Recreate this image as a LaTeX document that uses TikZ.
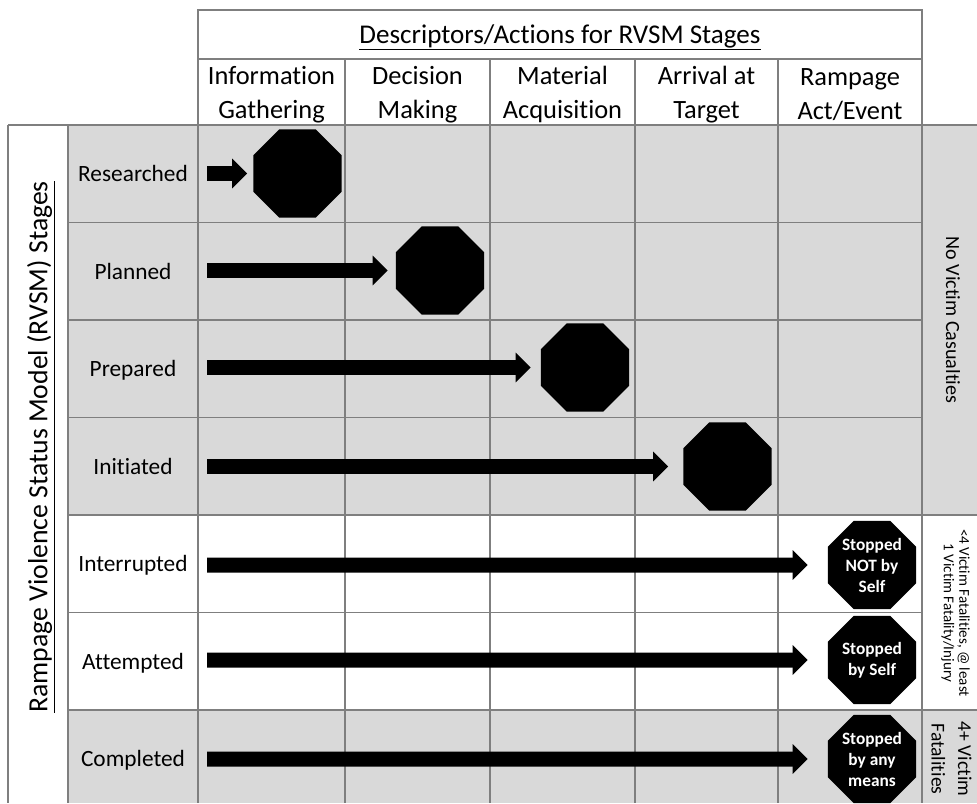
\documentclass[tikz,border=0pt]{standalone}
\usepackage{fontspec}
\setmainfont{Carlito}[Ligatures=NoCommon]
\usepackage{tikz}
\usetikzlibrary{positioning,calc,arrows.meta,shapes.geometric}
\definecolor{cellgray}{HTML}{D9D9D9}
\definecolor{gridgray}{HTML}{7F7F7F}
\tikzstyle{grid} = [draw=gridgray,line width=1.1pt]
\tikzstyle{stagehead} = [align=center,font=\fontsize{19.8}{25.5}\selectfont]
\tikzstyle{rowname} = [text depth=0pt,font=\fontsize{17.5}{21}\selectfont]
\tikzstyle{stopsign} = [regular polygon,regular polygon sides=8,minimum size=71.5pt,inner sep=0pt,
  fill=black,text=white,align=center,font=\bfseries\fontsize{13}{15.75}\selectfont]
\tikzstyle{bigarrow} = [line width=11.25pt,-{Triangle[length=11.25pt,width=21.75pt]}]

\begin{document}
\begin{tikzpicture}[x=0.75pt,y=-0.75pt]
  \useasboundingbox (0,0) rectangle (977,803);
  % shaded rows
  \fill[cellgray] (68,125) rectangle (977,515);
  \fill[cellgray] (68,710) rectangle (977,803);
  % table rules
  \draw[grid] (198,10) rectangle (922,59);
  \draw[grid] (8,125) -- (977,125);
  \draw[grid] (68,222.5) -- (922,222.5);
  \draw[grid] (68,320) -- (922,320);
  \draw[grid] (68,417.5) -- (922,417.5);
  \draw[grid] (68,515) -- (977,515);
  \draw[grid] (68,612.5) -- (922,612.5);
  \draw[grid] (68,710) -- (977,710);
  \draw[grid] (8,125) -- (8,803);
  \draw[grid] (68,125) -- (68,803);
  \draw[grid] (198,59) -- (198,803);
  \draw[grid] (345,59) -- (345,803);
  \draw[grid] (490,59) -- (490,803);
  \draw[grid] (635,59) -- (635,803);
  \draw[grid] (778,59) -- (778,803);
  \draw[grid] (922,59) -- (922,803);

  % headings
  \node[font=\fontsize{20.3}{24}\selectfont, anchor=base] (title) at (560,43) {\underline{Descriptors/Actions for RVSM Stages}};
  \node[stagehead] (info) at (271.5,94.5) {Information\\Gathering};
  \node[stagehead] (decide) at (417.5,94.5) {Decision\\Making};
  \node[stagehead] (material) at (562.5,94.5) {Material\\Acquisition};
  \node[stagehead] (arrival) at (706.5,94.5) {Arrival at\\Target};
  \node[stagehead] (act) at (850,94.5) {Rampage\\Act/Event};
  \node[rotate=90, font=\fontsize{20.8}{24}\selectfont] (rvsm) at (41,447) {\underline{Rampage Violence Status Model (RVSM) Stages}};

  % row names
  \node[rowname] (researched) at (133,173.75) {Researched};
  \node[rowname] (planned) at (133,271.25) {Planned};
  \node[rowname] (prepared) at (133,368.75) {Prepared};
  \node[rowname] (initiated) at (133,466.25) {Initiated};
  \node[rowname] (interrupted) at (133,563.75) {Interrupted};
  \node[rowname] (attempted) at (133,661.25) {Attempted};
  \node[rowname] (completed) at (133,758.75) {Completed};

  % outcome column
  \node[rotate=-90, font=\fontsize{15.1}{18}\selectfont] (nocas) at (953,320) {No Victim Casualties};
  \node[rotate=-90, align=center, font=\fontsize{11.25}{11.5}\selectfont] (fewfat) at (955.5,613) {<4 Victim Fatalities, @ least\\1 Victim Fatality/Injury};
  \node[rotate=-90, align=center, font=\fontsize{14.7}{20}\selectfont] (manyfat) at (951.5,759) {4+ Victim\\Fatalities};

  % stop signs
  \node[stopsign] (stop1) at (297.5,173.5) {};
  \node[stopsign] (stop2) at (440,270.5) {};
  \node[stopsign] (stop3) at (585,367.5) {};
  \node[stopsign] (stop4) at (727.5,466.5) {};
  \node[stopsign] (stop5) at (872,565) {Stopped\\NOT by\\Self};
  \node[stopsign] (stop6) at (872,660) {Stopped\\by Self};
  \node[stopsign] (stop7) at (872,759) {Stopped\\by any\\means};

  % arrows
  \coordinate (from1) at (207,173.5);
  \coordinate (from2) at (207,270.5);
  \coordinate (from3) at (207,367.5);
  \coordinate (from4) at (207,466.5);
  \coordinate (from5) at (207,565);
  \coordinate (from6) at (207,660);
  \coordinate (from7) at (207,759);
  \draw[bigarrow, shorten >=4.5pt] (from1) -- (stop1);
  \draw[bigarrow, shorten >=6pt] (from2) -- (stop2);
  \draw[bigarrow, shorten >=7.5pt] (from3) -- (stop3);
  \draw[bigarrow, shorten >=11.25pt] (from4) -- (stop4);
  \draw[bigarrow, shorten >=15pt] (from5) -- (stop5);
  \draw[bigarrow, shorten >=15pt] (from6) -- (stop6);
  \draw[bigarrow, shorten >=15pt] (from7) -- (stop7);
\end{tikzpicture}
\end{document}
